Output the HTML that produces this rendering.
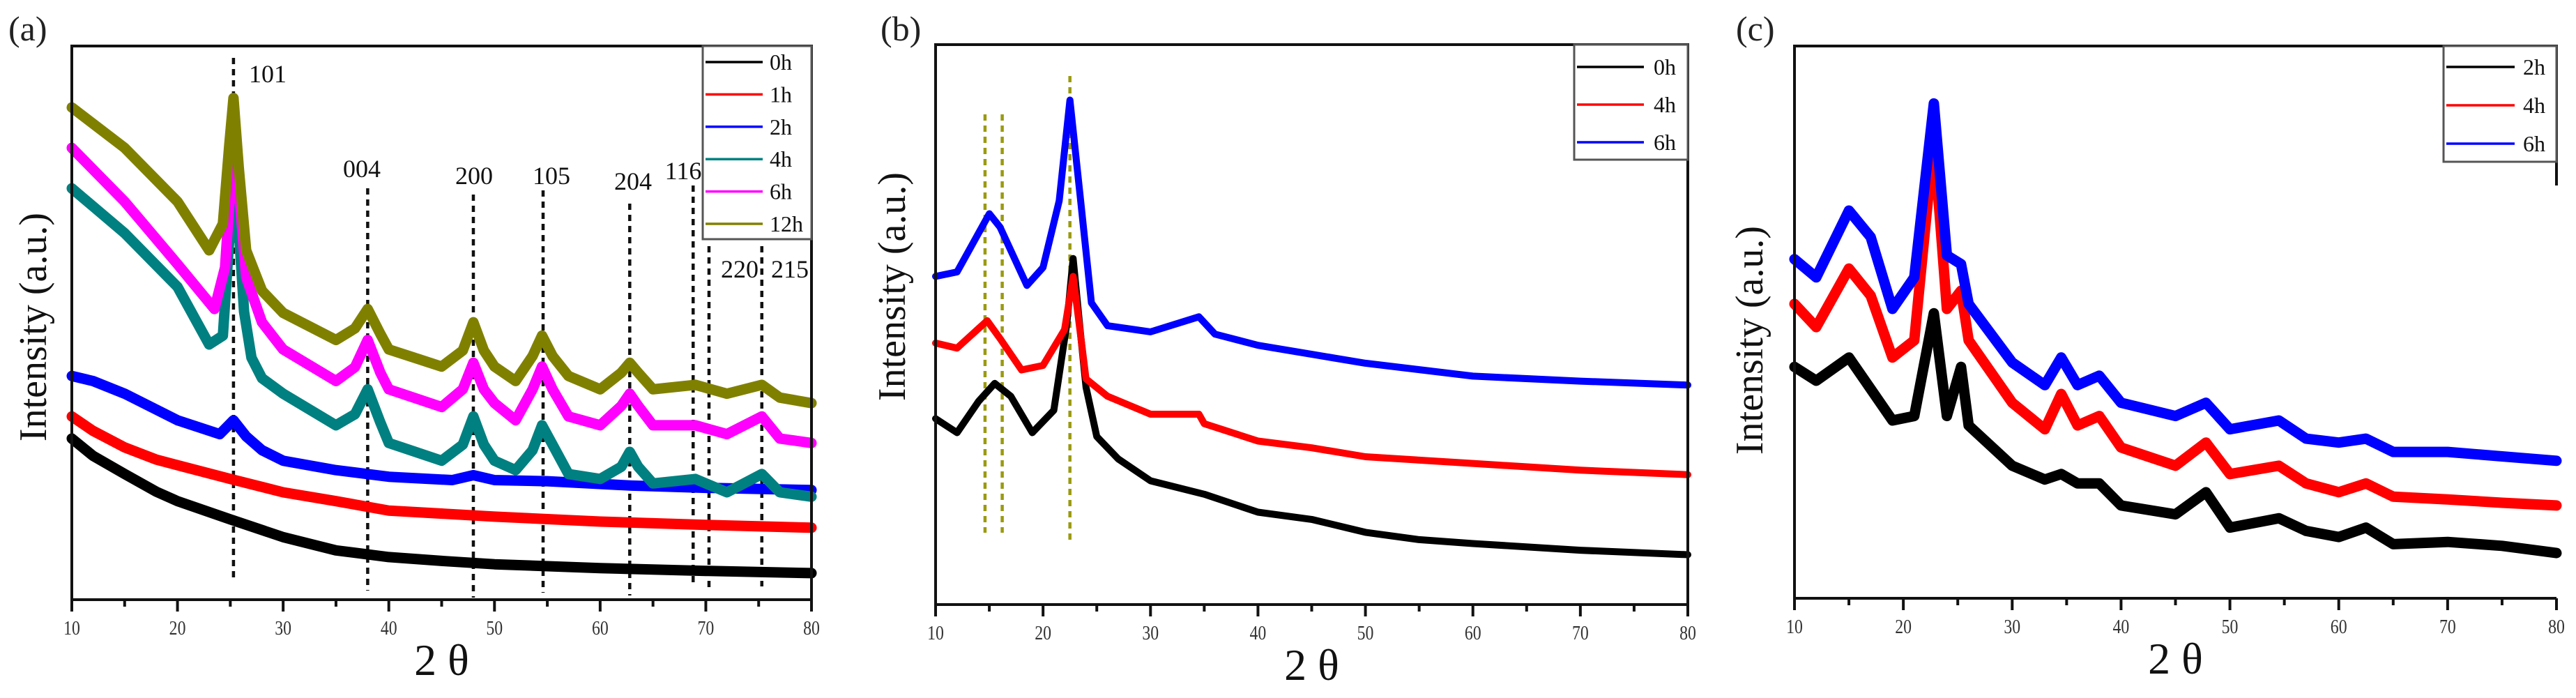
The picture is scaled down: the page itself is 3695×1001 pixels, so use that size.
<!DOCTYPE html>
<html><head><meta charset="utf-8"><style>
html,body{margin:0;padding:0;background:#fff}
svg{display:block}
text{font-family:"Liberation Serif",serif}
</style></head><body>
<svg id="fig" width="3695" height="1001" viewBox="0 0 3695 1001" xmlns="http://www.w3.org/2000/svg"></svg>
<script>
// ---------- Panel (a) data ----------
const aLabels = ["0h","1h","2h","4h","6h","12h"];
const aColors = ["#000000","#ff0000","#0000ff","#008080","#ff00ff","#808000"];
const a0x = [10,12,15,18,20,25,30,35,40,45,50,60,70,80];
const a0y = [29.1,26,22.7,19.5,17.8,14.5,11.3,8.9,7.7,7,6.4,5.7,5.2,4.8];
const a1x = [10,12,15,18,20,25,30,35,40,50,60,70,80];
const a1y = [33.1,30.5,27.5,25.3,24.3,21.8,19.4,17.8,16.1,15,14.1,13.5,13];
const a2x = [10,12,15,20,24,25.3,26.5,28,30,35,40,46,48,50,55,63,70,80];
const a2y = [40.4,39.5,37.2,32.4,29.9,32.4,29.5,27,25.1,23.4,22.2,21.6,22.5,21.6,21.4,20.6,20.2,19.8];
const a4x = [10,15,20,23,24.3,24.9,25.3,25.7,26.3,27,28,30,35,36.8,38,39.2,40,45,47,48,49,50,52,53.6,54.5,55.5,57,60,62,62.8,63.6,65,69,70,72,75.3,77,80];
const a4y = [74.3,66.2,56.5,46.1,47.7,65,77.6,70,52,43.7,40,37.2,31.5,33.5,38,32,28.3,25.1,28,33.1,28,25.1,23.4,27,31.5,28,22.7,21.8,24,26.7,24,21,21.8,21,19.4,22.7,19.4,18.6];
const a6x = [10,15,20,23.5,24.5,25.3,25.9,26.5,28,30,35,36.8,38,39.2,40,45,47,48,49,50,52,53.6,54.5,55.5,57,60,62,62.8,63.6,65,69,72,75.3,77,80];
const a6y = [81.6,71.9,60.6,52.5,60,82.5,72,58.2,50.1,45.2,39.5,42,46.9,41,38,34.8,38,42.8,38,35.5,32.4,38,42.1,38,33.1,31.5,35,37.2,35,31.5,31.5,29.9,33.1,29.1,28.3];
const a12x = [10,15,20,23,24.3,24.9,25.3,25.8,26.5,28,30,35,36.8,38,39.2,40,45,47,48,49,50,52,53.6,54.5,55.5,57,60,62,62.8,63.6,65,69,72,75.3,77,80];
const a12y = [88.9,81.6,71.9,63.1,67.9,82,90.6,78,63.1,55.8,51.8,46.9,49,52.5,48,45.2,42.1,45,50.1,45,42.1,39.5,44,47.7,44,40.4,38,41,42.8,41,38,38.8,37.2,38.8,36.5,35.5];
const aPeakX = [25.3,38,48,54.6,62.8,68.8,70.3,75.3];
const aPeakNames = ["101","004","200","105","204","116","220","215"];
// ---------- Panel (b) data ----------
const bLabels = ["0h","4h","6h"];
const bColors = ["#000000","#ff0000","#0000ff"];
const b0x = [10,12,14,15.5,17,19,21,22.2,22.8,23.4,24,25,27,30,35,40,45,50,55,60,70,80];
const b0y = [33.2,30.7,36.3,39.5,37.2,30.7,34.7,50,61.8,50,38.8,30,26,22.1,19.7,16.5,15.2,12.9,11.6,10.9,9.7,8.9];
const b4x = [10,12,14.8,16,18,20,22,22.8,23.5,24,26,30,34.5,35,40,45,50,60,70,80];
const b4y = [46.7,45.8,50.7,47.5,41.9,42.7,49.1,58.6,48,40.3,37.2,34,34,32.3,29.2,28,26.4,25.2,24,23.2];
const b6x = [10,12,15,16,18.5,20,21.5,22.5,23.5,24.5,26,30,34.5,36,40,45,50,60,70,80];
const b6y = [58.6,59.4,69.8,67.4,57,60.2,72.1,90.1,72.1,53.9,49.8,48.7,51.4,48.3,46.3,44.7,43.1,40.8,39.9,39.2];
const bGuideX = [14.6,16.2,22.5];
// ---------- Panel (c) data ----------
const cLabels = ["2h","4h","6h"];
const cColors = ["#000000","#ff0000","#0000ff"];
const cx = [10,12,15,17,19,21,22.8,24,25.3,26,30,33,34.5,36,38,40,45,47.8,50,54.5,57,60,62.5,65,70,75,80];
const c2y = [41.9,39.4,43.6,37.9,32.2,33,51.6,33,41.9,31.3,24,21.5,22.5,20.8,20.8,16.8,15.2,19.2,12.8,14.5,12.2,11.1,12.8,9.8,10.2,9.5,8.2];
const c4y = [53.3,49.1,59.7,54.8,43.6,46.7,83.2,52.4,55.7,46.7,35.4,30.6,37,31.3,33,27.3,24,28.2,22.5,24,20.8,19.2,20.8,18.4,17.9,17.3,16.8];
const c6y = [61.4,58.1,70.2,65.4,52.4,58.1,89.6,62.1,60.5,53.3,42.7,38.6,43.6,38.6,40.3,35.4,33,35.4,30.6,32.2,28.9,28.2,28.9,26.5,26.5,25.7,24.9];
const xTicks = [10,20,30,40,50,60,70,80];

const NS = "http://www.w3.org/2000/svg";
const svg = document.getElementById("fig");
function el(tag, attrs, parent){
  const e = document.createElementNS(NS, tag);
  for (const k in attrs) e.setAttribute(k, attrs[k]);
  (parent||svg).appendChild(e);
  return e;
}
function panel(cfg){
  const g = el("g", {});
  
  
  const X = v => cfg.L + (v-10)/70*(cfg.R-cfg.L);
  const Y = v => cfg.B - v/100*(cfg.B-cfg.T);
  const pl = el("text", {x:cfg.letterX, y:58, "font-size":50, "font-family":"Liberation Sans, sans-serif", fill:"#222"}, g);
  pl.textContent = cfg.letter;
  
  
  (cfg.guides||[]).forEach((gd,i)=>{
    const ln = el("line", {x1:X(gd.x), x2:X(gd.x), y1:gd.y1, y2:gd.y2, stroke:gd.color, "stroke-width":4.5, "stroke-dasharray":"9 7"}, g);
    
    
    if (gd.label){
      const t = el("text", {x:gd.lx, y:gd.ly, "font-size":36, "text-anchor":"middle", fill:"#111"}, g);
      t.textContent = gd.label;
      
      
    }
  });
  cfg.series.forEach(s=>{
    const pts = s.x.map((xv,i)=>X(xv).toFixed(1)+","+Y(s.y[i]).toFixed(1)).join(" ");
    const p = el("polyline", {points:pts, fill:"none", stroke:s.color, "stroke-width":cfg.sw, "stroke-linejoin":"round", "stroke-linecap":"round"}, g);
    
    
  });
  const fr = el("path", {d:cfg.frame ? cfg.frame : `M${cfg.L},${cfg.T}H${cfg.R}V${cfg.B}H${cfg.L}Z`, fill:"none", stroke:"#111", "stroke-width":4}, g);
  
  
  for (let v=10; v<=80; v+=5){
    const major = v%10===0;
    const tk = el("line", {x1:X(v), x2:X(v), y1:cfg.B, y2:cfg.B+(major?17:10), stroke:"#111", "stroke-width":4}, g);
    
    
  }
  xTicks.forEach(v=>{
    const t = el("text", {x:X(v), y:cfg.B+50, "font-size":28, "text-anchor":"middle", fill:"#333", transform:`translate(${X(v)},0) scale(0.85,1) translate(${-X(v)},0)`}, g);
    t.textContent = v;
    
    
  });
  const xt = el("text", {x:(cfg.L+cfg.R)/2, y:cfg.B+108, "font-size":64, "text-anchor":"middle", fill:"#111"}, g);
  xt.textContent = "2 θ";
  
  
  const yt = el("text", {x:0, y:0, "font-size":56, "text-anchor":"middle", fill:"#111", transform:`translate(${cfg.ytX},${cfg.ytY}) rotate(-90)`}, g);
  yt.textContent = "Intensity (a.u.)";
  
  
  const lg = el("g", {}, g);
  
  
  const lb = el("rect", {x:cfg.leg.x, y:cfg.T, width:cfg.R-cfg.leg.x, height:cfg.leg.b-cfg.T, fill:"#fff", stroke:"#555", "stroke-width":3}, lg);
  
  
  cfg.series.forEach((s,i)=>{
    const yy = cfg.leg.y0 + i*cfg.leg.dy;
    const ll = el("line", {x1:cfg.leg.x+4, x2:cfg.leg.lx2, y1:yy, y2:yy, stroke:s.color, "stroke-width":3.5}, lg);
    
    
    const lt = el("text", {x:cfg.leg.tx, y:yy+11, "font-size":32, fill:"#111"}, lg);
    lt.textContent = s.label;
    
    
  });
}

const aSeriesX = [a0x,a1x,a2x,a4x,a6x,a12x], aSeriesY=[a0y,a1y,a2y,a4y,a6y,a12y];
const aGuideY = [[83,834],[270,847],[279,857],[273,850],[292,854],[266,841],[353,844],[353,841]];
const aLabPos = [[384,118],[519,254],[680,264],[791,264],[908,272],[980,257],[1061,398],[1133,398]];
panel({name:"panel-a", letter:"(a)", letterX:12, L:103, R:1164, T:66, B:860, sw:15,
  ytX:66, ytY:469,
  series:aLabels.map((l,i)=>({label:l,color:aColors[i],x:aSeriesX[i],y:aSeriesY[i]})),
  guides:aPeakX.map((x,i)=>({x:x,y1:aGuideY[i][0],y2:aGuideY[i][1],color:"#111",label:aPeakNames[i],lx:aLabPos[i][0],ly:aLabPos[i][1]})),
  leg:{x:1008,b:343,y0:89,dy:46.4,lx2:1094,tx:1104}});

const bSeriesX=[b0x,b4x,b6x], bSeriesY=[b0y,b4y,b6y];
const bGuideY=[[164,764],[164,764],[109,778]];
panel({name:"panel-b", letter:"(b)", letterX:1263, L:1342, R:2421, T:64, B:867, sw:10,
  ytX:1298, ytY:411,
  series:bLabels.map((l,i)=>({label:l,color:bColors[i],x:bSeriesX[i],y:bSeriesY[i]})),
  guides:bGuideX.map((x,i)=>({x:x,y1:bGuideY[i][0],y2:bGuideY[i][1],color:"#9a9a10"})),
  leg:{x:2258,b:229,y0:96,dy:54,lx2:2358,tx:2372}});

const cSeriesY=[c2y,c4y,c6y];
panel({name:"panel-c", letter:"(c)", letterX:2490, L:2574, R:3667, T:66, B:858, sw:15,
  ytX:2528, ytY:488,
  frame:"M3667,266V66H2574V858H3667",
  series:cLabels.map((l,i)=>({label:l,color:cColors[i],x:cx,y:cSeriesY[i]})),
  guides:[],
  leg:{x:3505,b:232,y0:96,dy:55,lx2:3607,tx:3619}});
</script>
</body></html>
